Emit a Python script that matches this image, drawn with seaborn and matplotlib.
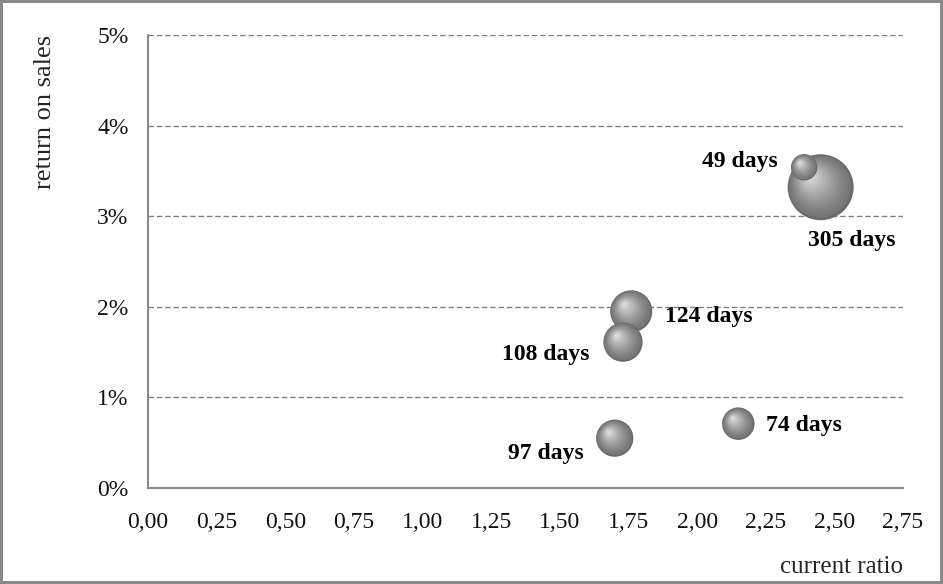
import matplotlib
matplotlib.use('Agg')
import numpy as np
import pandas as pd
import matplotlib.pyplot as plt
import matplotlib.transforms as mtransforms
import seaborn as sns

# bubble data
labels = ['49 days', '305 days', '124 days', '108 days', '97 days', '74 days']
current_ratio = [2.39, 2.45, 1.76, 1.73, 1.70, 2.15]
return_on_sales = [0.0354, 0.0332, 0.0195, 0.0161, 0.0055, 0.0071]
days = [49, 305, 124, 108, 97, 74]

x_ticks = [0.0, 0.25, 0.5, 0.75, 1.0, 1.25, 1.5, 1.75, 2.0, 2.25, 2.5, 2.75]
x_tick_labels = ['0,00', '0,25', '0,50', '0,75', '1,00', '1,25', '1,50', '1,75',
                 '2,00', '2,25', '2,50', '2,75']
y_ticks = [0.0, 0.01, 0.02, 0.03, 0.04, 0.05]
y_tick_labels = ['0%', '1%', '2%', '3%', '4%', '5%']

df = pd.DataFrame({'label': labels, 'current_ratio': current_ratio,
                   'return_on_sales': return_on_sales, 'days': days})

sns.set_style('white')
plt.rcParams['font.family'] = ['Liberation Serif', 'DejaVu Serif']

fig = plt.figure(figsize=(9.43, 5.84), dpi=100)
fig.patch.set_edgecolor('#8a8a8a')
fig.patch.set_linewidth(3)
ax = fig.add_axes([0.157, 0.1644, 0.8006, 0.7756])

# bubble area proportional to days; bigger bubbles drawn first (like Excel)
k = 7.4
n_layers = 14
draw_order = df.sort_values('days', ascending=False).reset_index(drop=True)
for rank, row in draw_order.iterrows():
    z = 3 + rank
    sns.scatterplot(data=draw_order.iloc[[rank]], x='current_ratio', y='return_on_sales',
                    size='days', sizes=(49 * k, 305 * k), size_norm=(49, 305),
                    color='#6a6a6a', edgecolor='none', linewidth=0, legend=False,
                    ax=ax, zorder=z)
    # shading: smaller, lighter discs shifted up-left so the bubble looks like a sphere
    s_full = row['days'] * k
    r = np.sqrt(s_full) / 2
    for i in range(1, n_layers + 1):
        t = i / n_layers
        scale = 1 - 0.88 * t
        shade = 0x74 + int((0xd8 - 0x74) * t ** 1.3)
        col = '#%02x%02x%02x' % (shade, shade, shade)
        off = mtransforms.offset_copy(ax.transData, fig=fig,
                                      x=-0.32 * r * t, y=0.32 * r * t, units='points')
        ax.scatter([row['current_ratio']], [row['return_on_sales']], s=s_full * scale ** 2,
                   color=col, edgecolor='none', linewidth=0, transform=off,
                   zorder=z + i * 0.01)

# label offsets in points
offsets = {'49 days': (-19, 4, 'right'), '305 days': (-9, -38, 'left'),
           '124 days': (24, -4, 'left'), '108 days': (-24, -9, 'right'),
           '97 days': (-22, -11, 'right'), '74 days': (20, -1, 'left')}
for _, row in df.iterrows():
    dx, dy, ha = offsets[row['label']]
    ax.annotate(row['label'], (row['current_ratio'], row['return_on_sales']),
                xytext=(dx, dy), textcoords='offset points', ha=ha, va='center',
                fontsize=17, fontweight='bold', color='black', zorder=20)

ax.set_xlim(0, 2.75)
ax.set_ylim(0, 0.05)
ax.set_xticks(x_ticks)
ax.set_xticklabels(x_tick_labels)
ax.set_yticks(y_ticks)
ax.set_yticklabels(y_tick_labels)
ax.tick_params(axis='both', labelsize=17, colors='#8a8a8a', labelcolor='#111111',
               direction='out', length=7, width=1.2)
ax.tick_params(axis='y', pad=7)
ax.tick_params(axis='x', pad=10)

ax.grid(axis='y', color='#808080', linestyle=(0, (4, 2)), linewidth=1)
ax.set_axisbelow(True)
for side in ['top', 'right']:
    ax.spines[side].set_visible(False)
for side in ['left', 'bottom']:
    ax.spines[side].set_color('#8a8a8a')
    ax.spines[side].set_linewidth(1.5)

ax.set_xlabel('current ratio', fontsize=18, loc='right', labelpad=17)
ax.set_ylabel('return on sales', fontsize=19, loc='top', labelpad=30)

plt.savefig('out.png', dpi=100)
